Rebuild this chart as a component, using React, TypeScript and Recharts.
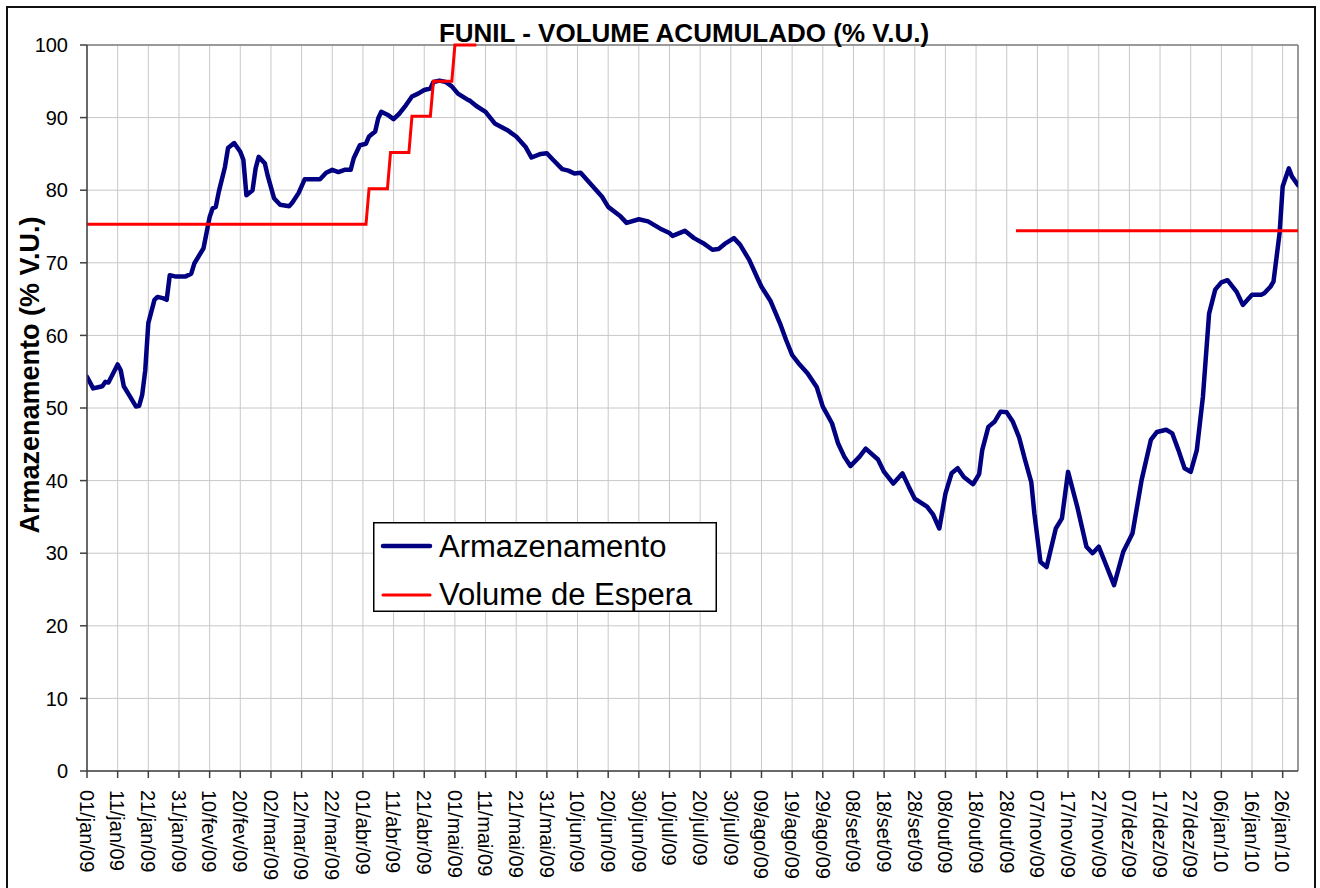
import { LineChart, Line, XAxis, YAxis, CartesianGrid, ReferenceLine } from 'recharts';

const MONTHS = ['jan', 'fev', 'mar', 'abr', 'mai', 'jun', 'jul', 'ago', 'set', 'out', 'nov', 'dez'];

// days counted from 01/jan/09
const storageDays = [
  0, 2, 4, 5, 6, 7, 10, 11, 12, 14, 16, 17, 18, 19, 20, 22, 23, 25, 26, 27,
  29, 32, 34, 35, 38, 40, 41, 42, 43, 45, 46, 48, 50, 51, 52, 54, 55, 56, 58, 59,
  61, 63, 66, 67, 69, 71, 76, 78, 80, 82, 84, 86, 87, 89, 91, 92, 94, 95, 96, 98,
  100, 102, 104, 106, 108, 110, 112, 113, 115, 117, 119, 121, 124, 125, 127, 130, 133, 137, 140, 143,
  145, 148, 150, 152, 155, 157, 159, 161, 164, 168, 170, 174, 176, 180, 183, 187, 190, 191, 195, 198,
  201, 204, 206, 208, 211, 213, 216, 219, 220, 223, 226, 228, 230, 232, 235, 238, 240, 243, 245, 247,
  249, 252, 254, 258, 260, 263, 266, 268, 270, 274, 276, 278, 280, 282, 284, 286, 289, 291, 292, 294,
  296, 298, 300, 302, 304, 306, 308, 309, 311, 313, 316, 318, 320, 323, 326, 328, 330, 332, 335, 338,
  341, 344, 347, 349, 352, 354, 356, 358, 360, 362, 364, 366, 368, 370, 372, 375, 377, 380, 383, 384,
  386, 387, 389, 390, 392, 393, 395,
];
const storageValues = [
  54.3, 52.7, 52.9, 53.0, 53.6, 53.5, 56.0, 55.2, 53.0, 51.6, 50.2, 50.3, 51.8, 55.2, 61.7, 64.9, 65.3, 65.1, 64.9, 68.3,
  68.1, 68.1, 68.5, 69.9, 72.0, 76.3, 77.5, 77.7, 79.8, 83.2, 85.8, 86.5, 85.3, 84.2, 79.3, 80.0, 83.0, 84.6, 83.7, 81.9,
  78.9, 78.0, 77.8, 78.3, 79.6, 81.5, 81.5, 82.4, 82.8, 82.5, 82.8, 82.8, 84.4, 86.2, 86.4, 87.4, 88.1, 89.9, 90.8, 90.4,
  89.8, 90.6, 91.7, 92.9, 93.3, 93.8, 94.0, 94.9, 95.1, 94.9, 94.3, 93.3, 92.5, 92.3, 91.6, 90.8, 89.2, 88.3, 87.4, 86.0,
  84.5, 85.0, 85.1, 84.2, 82.9, 82.7, 82.3, 82.4, 81.0, 79.1, 77.7, 76.4, 75.5, 76.0, 75.7, 74.7, 74.1, 73.7, 74.4, 73.4,
  72.7, 71.8, 71.9, 72.6, 73.4, 72.5, 70.4, 67.6, 66.7, 64.7, 61.7, 59.4, 57.3, 56.2, 54.8, 52.9, 50.2, 47.9, 45.1, 43.3,
  42.0, 43.3, 44.4, 42.9, 41.2, 39.6, 41.0, 39.2, 37.5, 36.4, 35.3, 33.4, 38.2, 41.0, 41.7, 40.5, 39.5, 40.9, 44.2, 47.4,
  48.1, 49.5, 49.4, 48.1, 46.0, 42.8, 39.8, 35.5, 28.8, 28.1, 33.4, 34.8, 41.2, 36.4, 30.9, 30.0, 30.9, 28.8, 25.6, 30.2,
  32.7, 40.1, 45.6, 46.7, 47.0, 46.5, 44.2, 41.7, 41.2, 44.2, 51.6, 63.0, 66.3, 67.3, 67.6, 66.0, 64.2, 65.6, 65.6, 65.8,
  66.7, 67.4, 74.1, 80.5, 83.0, 81.9, 80.7,
];

const waitDays = [0, 91, 92, 98, 99, 105, 106, 112, 113, 119, 120, 127, 128, 303, 395];
const waitValues = [75.3, 75.3, 80.2, 80.2, 85.2, 85.2, 90.2, 90.2, 95.0, 95.0, 100, 100, null, 74.4, 74.4];

const xTicks = [
  0, 10, 20, 30, 40, 50, 60, 70, 80, 90, 100, 110, 120, 130, 140, 150, 160, 170, 180, 190,
  200, 210, 220, 230, 240, 250, 260, 270, 280, 290, 300, 310, 320, 330, 340, 350, 360, 370, 380, 390,
];
const yTicks = [0, 10, 20, 30, 40, 50, 60, 70, 80, 90, 100];

const storageData = storageDays.map((day, i) => ({ day, v: storageValues[i] }));
const waitData = waitDays.map((day, i) => ({ day, v: waitValues[i] }));

const FONT = '"Liberation Sans", Arial, sans-serif';

const dayLabel = (d: number) => {
  const dt = new Date(Date.UTC(2009, 0, 1 + d));
  const dd = String(dt.getUTCDate()).padStart(2, '0');
  return `${dd}/${MONTHS[dt.getUTCMonth()]}/${String(dt.getUTCFullYear()).slice(2)}`;
};

const DateTick = (props: any) => {
  const { x, y, payload } = props;
  return (
    <g transform={`translate(${x},${y})`}>
      <text transform="rotate(90)" textAnchor="start" dy="0.36em" fontSize={20} fontFamily={FONT} fill="#000">
        {dayLabel(payload.value)}
      </text>
    </g>
  );
};

const LegendBox = () => (
  <svg width={344} height={90} style={{ position: 'absolute', left: 373, top: 522 }}>
    <rect x={0.75} y={0.75} width={342.5} height={88.5} fill="#fff" stroke="#000" strokeWidth={1.5} />
    <line x1={10} x2={57} y1={24} y2={24} stroke="#000080" strokeWidth={4.5} strokeLinecap="round" />
    <text x={66} y={35} fontSize={31} fontFamily={FONT} fill="#000">Armazenamento</text>
    <line x1={10} x2={57} y1={73} y2={73} stroke="#ff0000" strokeWidth={3} strokeLinecap="round" />
    <text x={66} y={83} fontSize={31} fontFamily={FONT} fill="#000">Volume de Espera</text>
  </svg>
);

export default function App() {
  return (
    <div style={{ position: 'absolute', left: 0, top: 0, width: 1320, height: 888, overflow: 'hidden', background: '#fff' }}>
      <div
        style={{
          position: 'absolute', left: 6, top: 6, width: 1310, height: 1000,
          boxSizing: 'border-box', border: '2px solid #111',
        }}
      />
      <div style={{ position: 'absolute', left: 0, top: 0 }}>
        <LineChart width={1320} height={888} margin={{ top: 45, right: 22, bottom: 0, left: 0 }}>
          <CartesianGrid stroke="#c8c8c8" strokeWidth={1} />
          <XAxis
            type="number"
            dataKey="day"
            domain={[0, 395]}
            ticks={xTicks}
            interval={0}
            height={117}
            tick={<DateTick />}
            tickSize={7}
            tickMargin={12}
            stroke="#404040"
            strokeWidth={1.5}
            allowDataOverflow
          />
          <YAxis
            type="number"
            domain={[0, 100]}
            ticks={yTicks}
            interval={0}
            width={87}
            tickSize={7}
            tickMargin={12}
            tick={{ fontSize: 20, fontFamily: FONT, fill: '#000' }}
            stroke="#404040"
            strokeWidth={1.5}
          />
          <ReferenceLine y={100} stroke="#808080" strokeWidth={1.5} />
          <ReferenceLine x={395} stroke="#808080" strokeWidth={1.5} />
          <Line
            data={storageData}
            dataKey="v"
            type="linear"
            stroke="#000080"
            strokeWidth={4.5}
            strokeLinejoin="round"
            strokeLinecap="round"
            dot={false}
            activeDot={false}
            isAnimationActive={false}
          />
          <Line
            data={waitData}
            dataKey="v"
            type="linear"
            stroke="#ff0000"
            strokeWidth={3}
            dot={false}
            activeDot={false}
            isAnimationActive={false}
          />
        </LineChart>
      </div>
      <LegendBox />
      <svg width={1320} height={888} style={{ position: 'absolute', left: 0, top: 0, pointerEvents: 'none' }}>
        <text x={684} y={42} textAnchor="middle" fontSize={26} fontWeight="bold" fontFamily={FONT} fill="#000">
          FUNIL - VOLUME ACUMULADO (% V.U.)
        </text>
        <text
          transform="translate(29,375) rotate(-90)"
          textAnchor="middle"
          dy="0.36em"
          fontSize={27}
          fontWeight="bold"
          fontFamily={FONT}
          fill="#000"
        >
          Armazenamento (% V.U.)
        </text>
      </svg>
    </div>
  );
}
